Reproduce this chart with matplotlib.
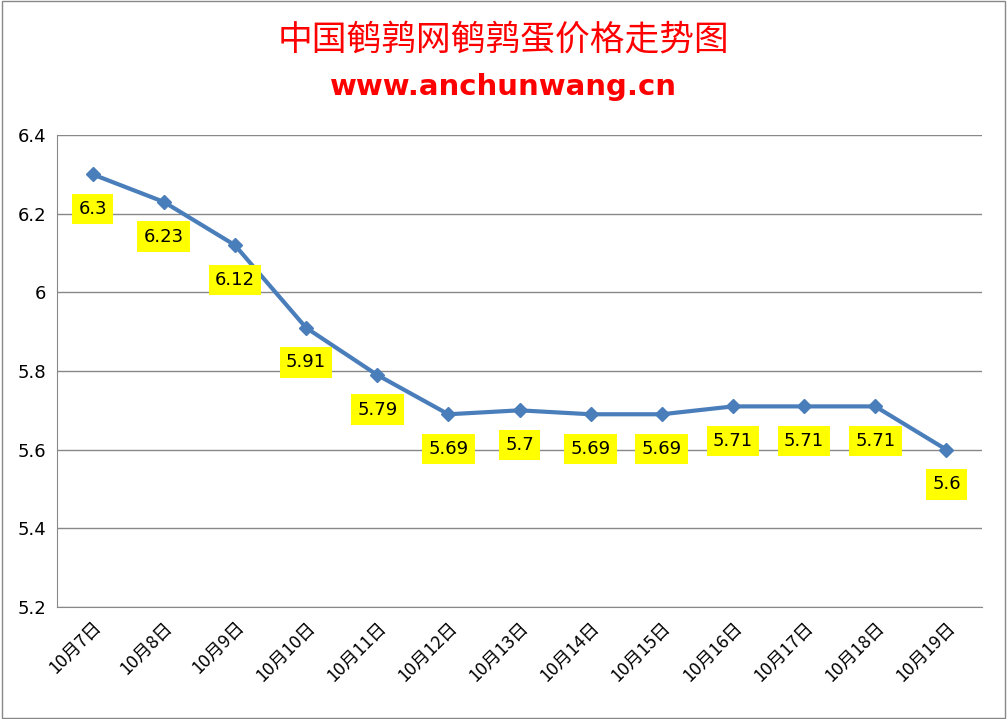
import matplotlib
matplotlib.use("Agg")
import matplotlib.pyplot as plt
from matplotlib.patches import Rectangle

plt.rcParams['font.family'] = ['Noto Sans CJK SC', 'DejaVu Sans']

dates = ["10月7日","10月8日","10月9日","10月10日","10月11日","10月12日","10月13日",
         "10月14日","10月15日","10月16日","10月17日","10月18日","10月19日"]
prices = [6.3, 6.23, 6.12, 5.91, 5.79, 5.69, 5.7, 5.69, 5.69, 5.71, 5.71, 5.71, 5.6]
yticks = [5.2, 5.4, 5.6, 5.8, 6.0, 6.2, 6.4]
ylabels = ["5.2", "5.4", "5.6", "5.8", "6", "6.2", "6.4"]

fig = plt.figure(figsize=(10.07, 7.19), dpi=100)
fig.patches.append(Rectangle((0.002, 0.002), 0.996, 0.996, transform=fig.transFigure,
                             fill=False, edgecolor='#888888', lw=1))
ax = fig.add_axes([57/1007, 1-607/719, 925/1007, 472/719])
x = list(range(len(dates)))
ax.plot(x, prices, color='#4a7ebb', lw=3, marker='D', markersize=7, zorder=3)
for xi, p in zip(x, prices):
    ax.annotate(f"{p:g}", (xi, p), xytext=(0, -25), textcoords='offset points',
                ha='center', va='center', fontsize=13, family='DejaVu Sans',
                bbox=dict(boxstyle='square,pad=0.35', fc='yellow', ec='none'))
ax.set_xlim(-0.5, len(dates) - 0.5)
ax.set_ylim(5.2, 6.4)
ax.set_yticks(yticks)
ax.set_yticklabels(ylabels, fontsize=13, family='DejaVu Sans')
ax.set_xticks(x)
ax.set_xticklabels(dates, rotation=45, ha='right', rotation_mode='anchor', fontsize=13)
ax.tick_params(length=0, pad=8)
ax.grid(axis='y', color='#888888', lw=1)
ax.set_axisbelow(True)
for s in ['top', 'right']:
    ax.spines[s].set_visible(False)
ax.spines['left'].set_color('#888888')
ax.spines['bottom'].set_color('#888888')

fig.text(0.5, 1-40/719, "中国鹌鹑网鹌鹑蛋价格走势图", ha='center', va='center',
         color='red', fontsize=25)
fig.text(0.5, 1-87/719, "www.anchunwang.cn", ha='center', va='center',
         color='red', fontsize=21, fontweight='bold', family='DejaVu Sans')
fig.savefig("out.png", dpi=100)
